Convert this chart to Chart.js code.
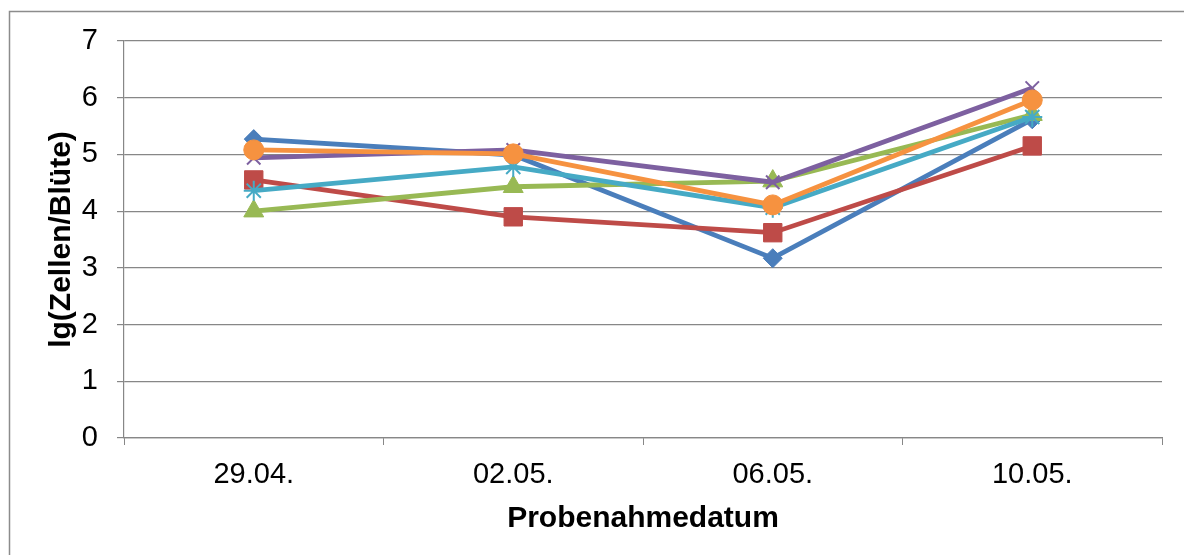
<!DOCTYPE html>
<html>
<head>
<meta charset="utf-8">
<script src="https://cdn.jsdelivr.net/npm/chart.js@4"></script>
<style>
  html, body { margin: 0; padding: 0; background: #fff; }
  #wrap { width: 1184px; height: 555px; position: relative; }
</style>
</head>
<body>
<div id="wrap"><canvas id="myChart"></canvas></div>
<script>
const labels = ['29.04.', '02.05.', '06.05.', '10.05.'];

const blauWerte   = [5.27, 4.99, 3.17, 5.62];
const rotWerte    = [4.55, 3.90, 3.62, 5.15];
const gruenWerte  = [4.00, 4.43, 4.53, 5.70];
const lilaWerte   = [4.94, 5.08, 4.51, 6.17];
const tuerkisWerte = [4.36, 4.78, 4.06, 5.66];
const orangeWerte = [5.08, 5.01, 4.11, 5.96];

const yTicks = [0, 1, 2, 3, 4, 5, 6, 7];

function serie(values, color, style, radius, pbw, order) {
  return {
    data: values,
    borderColor: color,
    backgroundColor: color,
    borderWidth: 4.8,
    pointStyle: style,
    pointRadius: radius,
    pointHoverRadius: radius,
    pointBorderWidth: pbw,
    pointBackgroundColor: color,
    pointBorderColor: color,
    tension: 0,
    order: order
  };
}

const data = {
  labels: labels,
  datasets: [
    serie(blauWerte, '#4A7EBB', 'rectRot', 9.5, 1, 6),
    serie(rotWerte, '#BE4B48', 'rect', 13, 1, 5),
    serie(gruenWerte, '#98B954', 'triangle', 11.5, 1, 4),
    serie(lilaWerte, '#7D60A0', 'crossRot', 9.5, 2, 3),
    serie(tuerkisWerte, '#46AAC5', 'star', 10, 2, 2),
    serie(orangeWerte, '#F69240', 'circle', 10, 1, 1)
  ]
};

// grauer Rahmen um das ganze Diagramm
const rahmen = {
  id: 'rahmen',
  beforeDraw(chart) {
    const ctx = chart.ctx;
    ctx.save();
    ctx.fillStyle = '#fff';
    ctx.fillRect(0, 0, chart.width, chart.height);
    ctx.strokeStyle = '#8c8c8c';
    ctx.lineWidth = 1.5;
    ctx.strokeRect(9.5, 11.5, chart.width + 20, chart.height + 20);
    ctx.restore();
  }
};

const gray = '#878787';
const font = { family: '"Liberation Sans", Arial, sans-serif', size: 29 };

const config = {
  type: 'line',
  data: data,
  plugins: [rahmen],
  options: {
    responsive: true,
    maintainAspectRatio: false,
    animation: false,
    layout: { padding: { left: 0, right: 22, top: 41, bottom: 0 } },
    plugins: {
      legend: { display: false },
      tooltip: { enabled: false }
    },
    scales: {
      x: {
        offset: true,
        grid: { offset: true, drawOnChartArea: false, drawTicks: true, tickLength: 7, color: gray, lineWidth: 1 },
        border: { color: gray, width: 1.2 },
        ticks: { color: '#000', font: font, padding: 13, maxRotation: 0 },
        title: {
          display: true,
          text: 'Probenahmedatum',
          color: '#000',
          font: { family: font.family, size: 30, weight: 'bold' },
          padding: { top: 0, bottom: 18 }
        },
        afterFit(scale) { scale.height = 117; }
      },
      y: {
        min: 0,
        max: 7,
        afterBuildTicks(scale) { scale.ticks = yTicks.map(v => ({ value: v })); },
        grid: { color: gray, lineWidth: 1.2, drawTicks: true, tickLength: 7 },
        border: { color: gray, width: 1.2 },
        ticks: { color: '#000', font: font, padding: 19 },
        title: {
          display: true,
          text: 'lg(Zellen/Blüte)',
          color: '#000',
          font: { family: font.family, size: 30, weight: 'bold' },
          padding: { top: 44, bottom: 0 }
        },
        afterFit(scale) { scale.width = 124; }
      }
    }
  }
};

const myChart = new Chart(
  document.getElementById('myChart'),
  config
);
</script>
</body>
</html>
